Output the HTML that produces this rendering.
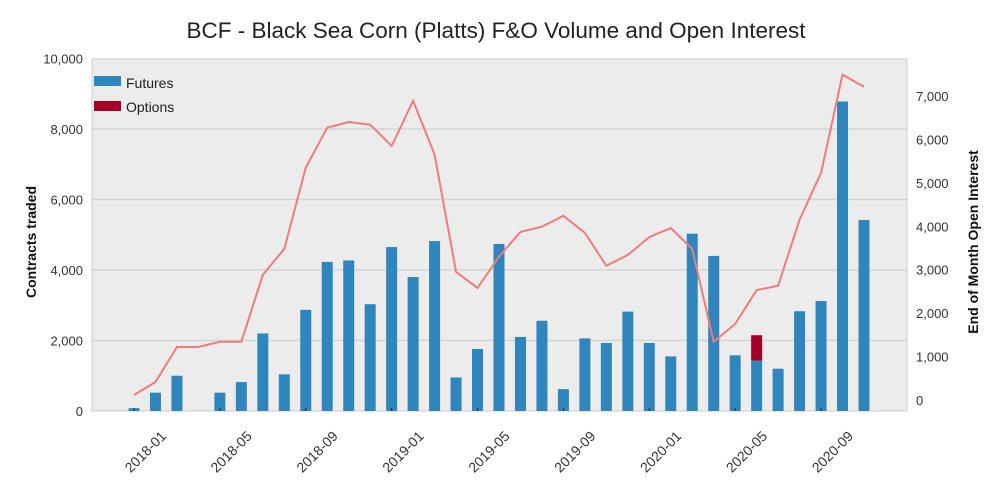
<!DOCTYPE html>
<html><head><meta charset="utf-8"><style>
body{margin:0;background:#fff;font-family:"Liberation Sans",sans-serif}
svg{display:block}
</style></head><body>
<svg id="chart" width="1000" height="500" xmlns="http://www.w3.org/2000/svg">
<text x="496" y="38" text-anchor="middle" font-size="22.5" fill="#222">BCF - Black Sea Corn (Platts) F&amp;O Volume and Open Interest</text>
<rect x="92" y="59" width="815" height="352" fill="#ececec" stroke="#ccc"/>
<g id="grid"></g><g id="bars"></g><g id="line"></g><g id="axes"></g>
<g>
<rect x="94" y="76" width="27" height="10" fill="#2f86bd"/>
<text x="126" y="88" font-size="14" fill="#222">Futures</text>
<rect x="94" y="101" width="27" height="10" fill="#a50026"/>
<text x="126" y="112" font-size="14" fill="#222">Options</text>
</g>
<text transform="translate(36,242) rotate(-90)" text-anchor="middle" font-size="14" font-weight="bold" fill="#111">Contracts traded</text>
<text transform="translate(978,242) rotate(-90)" text-anchor="middle" font-size="14" font-weight="bold" fill="#111">End of Month Open Interest</text>
</svg>
<script>
const months=["2018-01","2018-02","2018-03","2018-04","2018-05","2018-06","2018-07","2018-08","2018-09","2018-10","2018-11","2018-12","2019-01","2019-02","2019-03","2019-04","2019-05","2019-06","2019-07","2019-08","2019-09","2019-10","2019-11","2019-12","2020-01","2020-02","2020-03","2020-04","2020-05","2020-06","2020-07","2020-08","2020-09","2020-10","2020-11"];
const futures=[80,520,1000,0,520,820,2200,1040,2870,4230,4270,3030,4650,3800,4820,950,1760,4740,2100,2560,620,2060,1930,2820,1930,1550,5030,4400,1580,1430,1200,2830,3120,8780,5420];
const options=[0,0,0,0,0,0,0,0,0,0,0,0,0,0,0,0,0,0,0,0,0,0,0,0,0,0,0,0,0,720,0,0,0,0,0];
const openInterest=[115,415,1220,1220,1340,1340,2880,3480,5350,6270,6400,6340,5850,6890,5650,2950,2580,3300,3870,3990,4240,3850,3090,3340,3750,3960,3480,1340,1750,2530,2630,4150,5230,7490,7210];
const leftTicks=[0,2000,4000,6000,8000,10000];
const rightTicks=[0,1000,2000,3000,4000,5000,6000,7000];
const xTicks=["2018-01","2018-05","2018-09","2019-01","2019-05","2019-09","2020-01","2020-05","2020-09"];
const NS="http://www.w3.org/2000/svg";
const x=i=>134+i*(730/34);
const yL=v=>411-v*352.5/10000;
const yR=v=>400-v*43.43/1000;
function mk(tag,attrs,parent){const e=document.createElementNS(NS,tag);for(const k in attrs)e.setAttribute(k,attrs[k]);parent.appendChild(e);return e;}
const fmt=v=>v.toLocaleString("en-US");
const grid=document.getElementById("grid"),bars=document.getElementById("bars"),line=document.getElementById("line"),axes=document.getElementById("axes");
leftTicks.forEach(v=>{
 if(v>0&&v<10000){const g=mk("line",{x1:92,x2:907,y1:yL(v),y2:yL(v),stroke:"#d4d4d4","stroke-width":1.5},grid);
 
 }
 const t=mk("text",{x:83,y:yL(v)+5,"text-anchor":"end","font-size":13,fill:"#333"},axes);t.textContent=fmt(v);
 
 
});
rightTicks.forEach(v=>{
 const t=mk("text",{x:916,y:yR(v)+5,"font-size":13,fill:"#333"},axes);t.textContent=fmt(v);
 
 
});
months.forEach((m,i)=>{
 const cx=x(i);
 if(futures[i]>0){const r=mk("rect",{x:cx-5.5,y:yL(futures[i]),width:11,height:411-yL(futures[i]),fill:"#2f86bd"},bars);
 
 }
 if(options[i]>0){const r=mk("rect",{x:cx-5.5,y:yL(futures[i]+options[i]),width:11,height:yL(futures[i])-yL(futures[i]+options[i]),fill:"#a50026"},bars);
 
 }
});
const pl=mk("polyline",{points:openInterest.map((v,i)=>x(i)+","+yR(v)).join(" "),fill:"none",stroke:"#ef7b7b","stroke-width":2},line);


xTicks.forEach(m=>{
 const i=months.indexOf(m),cx=x(i);
 const tk=mk("line",{x1:cx,x2:cx,y1:408,y2:411,stroke:"#222"},axes);
 
 
 const t=mk("text",{transform:`translate(${cx+33},${437}) rotate(-45)`,"text-anchor":"end","font-size":14,fill:"#333"},axes);t.textContent=m;
 
 
});
</script>
</body></html>
